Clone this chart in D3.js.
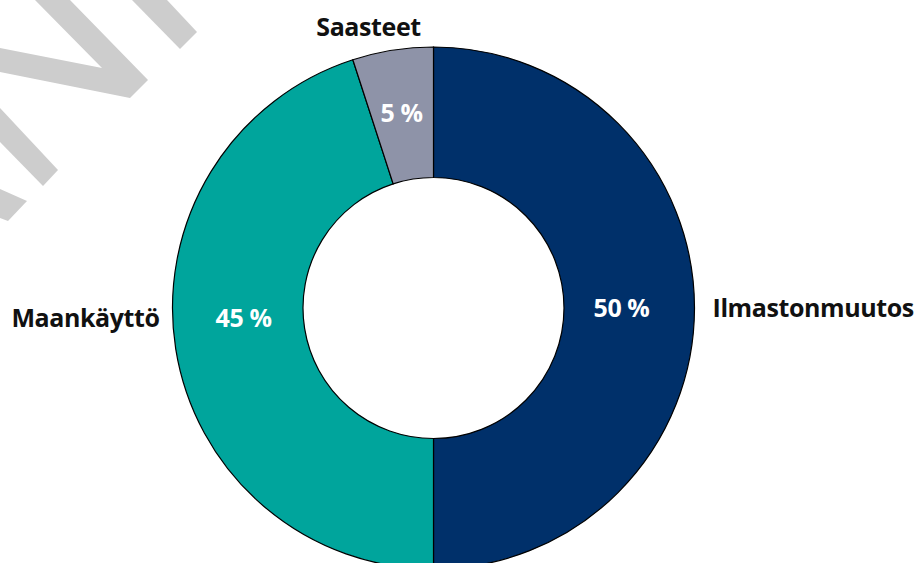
<!DOCTYPE html>
<html>
<head>
<meta charset="utf-8">
<script src="https://cdn.jsdelivr.net/npm/d3@7"></script>
<style>
  html, body { margin: 0; padding: 0; background: #ffffff; }
  svg { display: block; }
  text { font-family: "Open Sans", "Noto Sans", sans-serif; font-weight: 700; letter-spacing: -0.4px; }
</style>
</head>
<body>
<svg id="chart" width="916" height="563"></svg>
<script>
// ---- data ----
const categories = ["Ilmastonmuutos", "Maankäyttö", "Saasteet"];
const values = [50, 45, 5];
const valueLabels = ["50 %", "45 %", "5 %"];
const colors = ["#00306a", "#00a59c", "#8e93a8"];

// ---- layout ----
const W = 916, H = 563;
const cx = 433.5, cy = 308;
const outerR = 261, innerR = 130.5;

const svg = d3.select("#chart");

// watermark shapes (decorative, light grey)
const wm = [
  [[132,0],[167,0],[197,32],[180,49]],
  [[35,0],[70,0],[148,80],[130,98],[0,72],[0,48],[102,68]],
  [[0,108],[0,142],[43,186],[58,170]],
  [[0,189],[27,201],[8,221],[0,218]]
];
svg.append("g").selectAll("polygon").data(wm).join("polygon")
  .attr("points", d => d.map(p => p.join(",")).join(" "))
  .attr("fill", "#cdcdcd");

const g = svg.append("g").attr("transform", `translate(${cx},${cy})`);

const pie = d3.pie().sort(null).value(d => d.value);
const arcs = pie(categories.map((c, i) => ({ name: c, value: values[i], i })));
const arc = d3.arc().innerRadius(innerR).outerRadius(outerR);

g.selectAll("path").data(arcs).join("path")
  .attr("d", arc)
  .attr("fill", d => colors[d.data.i])
  .attr("stroke", "#000")
  .attr("stroke-width", 1.2)
  .attr("stroke-linejoin", "miter");

// value labels inside slices
const valuePos = [[188, 9], [-190, 19], [-32, -186]];
g.selectAll("text.val").data(arcs).join("text")
  .attr("class", "val")
  .attr("x", d => valuePos[d.data.i][0])
  .attr("y", d => valuePos[d.data.i][1])
  .attr("text-anchor", "middle")
  .attr("fill", "#ffffff")
  .style("font-size", "25px")
  .text(d => valueLabels[d.data.i]);

// category labels outside
const catPos = [[279, 9, "start"], [-348, 19, "middle"], [-65, -272, "middle"]];
g.selectAll("text.cat").data(arcs).join("text")
  .attr("class", "cat")
  .attr("x", d => catPos[d.data.i][0])
  .attr("y", d => catPos[d.data.i][1])
  .attr("text-anchor", d => catPos[d.data.i][2])
  .attr("fill", "#111111")
  .style("font-size", "25px")
  .text(d => d.data.name);
</script>
</body>
</html>
